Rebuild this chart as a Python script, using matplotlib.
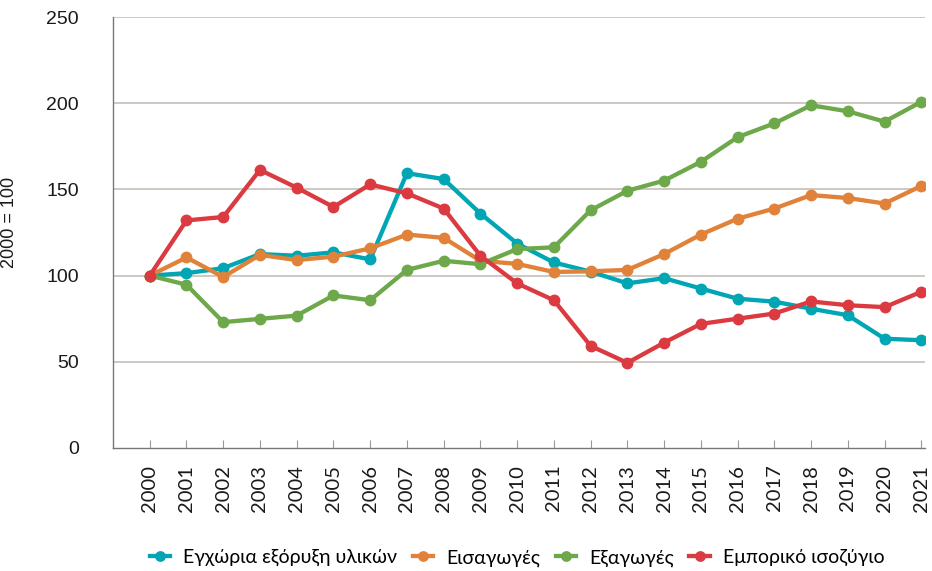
import matplotlib
matplotlib.use("Agg")
import matplotlib.pyplot as plt
import numpy as np

years = [str(y) for y in range(2000, 2022)]
domestic = [100, 101.4, 104.3, 112.5, 111.5, 113.5, 109.4, 159.4, 156, 136, 118.6, 107.6,
            102.3, 95.5, 98.5, 92.5, 86.6, 84.9, 80.8, 77, 63.4, 62.5]
imports = [100, 110.5, 99.2, 112, 109, 111, 115.8, 123.8, 121.9, 108.6, 106.8, 102.1,
           102.5, 103.3, 112.5, 123.8, 133, 138.9, 146.7, 145, 141.8, 152]
exports = [100, 94.7, 73, 74.9, 76.8, 88.5, 85.7, 103.3, 108.6, 106.6, 115.4, 116.4,
           137.9, 149.2, 155.1, 166, 180.3, 188.3, 198.8, 195.3, 189.3, 200.8]
balance = [100, 132, 134, 161.3, 151, 139.8, 152.9, 147.7, 138.9, 111.5, 95.5, 85.7,
           59.2, 49.4, 61.1, 72, 75, 78, 85, 82.8, 81.7, 90.6]
series_names = ["Εγχώρια εξόρυξη υλικών", "Εισαγωγές", "Εξαγωγές", "Εμπορικό ισοζύγιο"]
colors = ["#00a6b4", "#e0823a", "#6da84a", "#da3a40"]
yticks = [0, 50, 100, 150, 200, 250]

plt.rcParams['font.family'] = ['Lato', 'DejaVu Sans']

fig = plt.figure(figsize=(9.32, 5.71), dpi=100)
ax = fig.add_axes([113/932, 1 - 448/571, (925-113)/932, (448-17)/571])

x = np.arange(len(years))
for vals, name, c in zip([domestic, imports, exports, balance], series_names, colors):
    ax.plot(x, vals, color=c, lw=3.1, marker='o', ms=7.5, label=name,
            solid_joinstyle='round', zorder=3)

ax.set_xlim(-1, 21.1)
ax.set_ylim(0, 250)
ax.set_yticks(yticks)
ax.set_yticklabels([str(v) for v in yticks], fontsize=14, color='#1a1a1a',
                   family=['Liberation Sans', 'DejaVu Sans'])
ax.set_xticks(x)
ax.set_xticklabels(years, rotation=90, fontsize=14.5, color='#1a1a1a')
for yv in yticks[1:]:
    ax.axhline(yv, xmin=0, xmax=1, color='#c9c5bd', lw=1.3, zorder=0)
ax.tick_params(axis='x', direction='in', length=6, color='#999999', width=0.8,
               labelcolor='#1a1a1a', pad=12)
ax.tick_params(axis='y', length=0, labelcolor='#1a1a1a', pad=24.5)
for sp in ['top', 'right']:
    ax.spines[sp].set_visible(False)
for sp in ['left', 'bottom']:
    ax.spines[sp].set_color('#777777')
    ax.spines[sp].set_linewidth(1.0)
ax.set_ylabel("2000 = 100", fontsize=13, color='#1a1a1a',
              family=['Liberation Sans', 'DejaVu Sans'])
ax.yaxis.set_label_coords((18 - 113) / 812, 0.524)

fig.legend(loc='center', bbox_to_anchor=(0.555, 1 - 558/571), ncol=4, frameon=False,
           fontsize=14, handlelength=1.05, columnspacing=0.8, handletextpad=0.67,
           markerscale=0.9)

fig.savefig("out.png", dpi=100)
